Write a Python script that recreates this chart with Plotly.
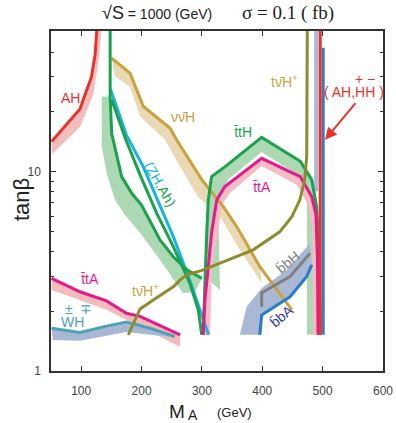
import numpy as np
import plotly.graph_objects as go

# ---- data (M_A in GeV, tan beta) ----
# AH (red) and its band
ah_m = [51, 98, 117, 123, 126]
ah_tb = [14.2, 20.7, 30, 38.7, 52]
ah_band_m = [52, 98, 120, 129, 134]
ah_band_tb = [12.3, 16.8, 24.4, 36.5, 52]

# green curve from the top, with green band
zha_m = [148, 148, 150.5, 167, 183.7, 200, 230.6, 252.6, 275, 300]
zha_tb = [52, 23.9, 15.6, 9.47, 7.81, 6.82, 4.55, 3.75, 3.22, 2.92]
zhb_m = [134, 134, 143, 156, 172.6, 197.5, 230.6, 269, 288.6]
zhb_tb = [23.9, 13.4, 9.66, 7.23, 6.08, 4.94, 3.61, 2.46, 2.5]

# Ah (green) and ZH (cyan)
ah2_m = [150.5, 174, 197.5, 225, 252.6, 280, 294, 299.7]
ah2_tb = [23, 14.5, 9.66, 6.2, 4.21, 2.76, 2.03, 1.52]
zh_m = [148.5, 175, 203, 252.6, 280, 302, 311]
zh_tb = [26, 15.3, 10.6, 4.73, 2.85, 1.8, 1.52]

# ttH (green) and inner band
tth_m = [302, 305, 308, 310.6, 316, 338, 399, 463, 482, 490, 494, 496]
tth_tb = [1.52, 2.97, 4.94, 7.23, 9.47, 10.6, 14.9, 11.3, 9.12, 6.69, 4.05, 1.52]
tthb_m = [330, 326.7, 343, 399, 459, 474, 474]
tthb_tb = [2.55, 7.23, 9.12, 12.6, 9.66, 7.66, 1.52]

# ttA (pink) and inner band
tta_m = [302, 305, 310.6, 316, 324.5, 338, 399, 463, 482, 489, 491.5, 492.4]
tta_tb = [1.52, 2.27, 3.34, 4.94, 7.23, 8.44, 11.7, 9.47, 7.5, 6.08, 3.61, 1.52]
ttab_m = [313.4, 316.7, 326.7, 333, 346, 399, 457.5, 476, 483, 484]
ttab_tb = [1.52, 3.34, 4.94, 6.82, 7.8, 10.7, 8.6, 6.82, 5.11, 1.52]

# ttA at low tan beta (pink) and band
tta2_m = [51, 98, 142, 175, 197.5, 264]
tta2_tb = [2.92, 2.5, 2.25, 1.95, 1.88, 1.52]
tta2b_m = [51, 142, 175, 264]
tta2b_tb = [2.55, 2.03, 1.80, 1.32]

# W H (teal) and band
wh_m = [51, 98, 142, 175, 214, 255]
wh_tb = [1.64, 1.56, 1.68, 1.76, 1.64, 1.49]
whb_m = [53, 98, 175, 247]
whb_tb = [1.43, 1.42, 1.57, 1.48]

# t nu H+ (olive)
tvh_m = [178, 197.5, 225, 252.6, 264, 275, 300, 330, 385, 429, 449, 462, 470, 473.6, 474.6, 474.6]
tvh_tb = [1.52, 2.05, 2.33, 2.65, 2.87, 3.04, 3.2, 3.48, 4.06, 5.0, 5.96, 7.2, 9.0, 11.9, 35, 52]

# nu nu H (tan) and band
vvh_m = [150.5, 181, 203, 247, 258, 300, 335.5, 357.6, 396, 432, 449]
vvh_tb = [37.3, 31.3, 21.3, 16.6, 14.5, 9.12, 6.69, 5.31, 3.34, 2.36, 2.03]
vvhb_m = [150.5, 156, 181, 197.5, 239, 260, 293.5, 330, 363, 399]
vvhb_tb = [37.3, 30.1, 26.8, 19.0, 14.5, 11.1, 7.5, 5.96, 4.06, 2.76]

# bbH (gray), bbA (blue) and band
bbh_m = [399, 399, 446, 479]
bbh_tb = [2.1, 2.47, 2.98, 3.9]
bba_m = [396, 399, 446, 473.6, 482]
bba_tb = [1.52, 1.91, 2.36, 2.98, 3.41]
bbb_m = [363, 374, 399, 440.5, 479]
bbb_tb = [1.52, 2.10, 2.60, 3.22, 4.38]

# (AH, H+H-) near kinematic limit
red_m = [496, 496]
red_tb = [1.52, 52]
blue_m = [501, 501]
blue_tb = [1.52, 42]
hh_band_m = [486, 493]
hh_band_tb = [8, 52]

fig = go.Figure()


def band(m1, t1, m2, t2, color):
    fig.add_trace(go.Scatter(x=list(m1) + list(m2)[::-1], y=list(t1) + list(t2)[::-1],
                             mode='lines', fill='toself', fillcolor=color,
                             line=dict(width=0), hoverinfo='skip'))


def line(m, t, color, w=3):
    fig.add_trace(go.Scatter(x=m, y=t, mode='lines', line=dict(color=color, width=w),
                             hoverinfo='skip'))


# bands
band(ah_m, ah_tb, ah_band_m, ah_band_tb, '#f4bdbd')
band(vvh_m[:9], vvh_tb[:9], vvhb_m, vvhb_tb, '#e9dab5')
band(zha_m[1:], zha_tb[1:], zhb_m, zhb_tb, '#acd9b3')
band(tth_m[1:], tth_tb[1:], tthb_m, tthb_tb, '#acd9b3')
band(tta_m, tta_tb, ttab_m, ttab_tb, '#f4bcc3')
band(tta2_m, tta2_tb, tta2b_m, tta2b_tb, '#f2bcbc')
band(wh_m, wh_tb, whb_m, whb_tb, '#a9b7d6')
band(bbb_m, bbb_tb, bba_m, bba_tb, '#a9b8d5')
band([hh_band_m[0]] * 2, hh_band_tb, [hh_band_m[1]] * 2, hh_band_tb, '#a9b8d5')

# lines
line(vvh_m, vvh_tb, '#c9a23e')
line(ah_m, ah_tb, '#e8322c')
line(zh_m, zh_tb, '#19b2e6')
line(ah2_m, ah2_tb, '#1aa34c')
line(zha_m, zha_tb, '#1aa34c')
line(tth_m, tth_tb, '#1aa34c')
line(tta_m, tta_tb, '#e6198c')
line(tta2_m, tta2_tb, '#e6198c')
line(wh_m, wh_tb, '#4ea2b2')
line(bbh_m, bbh_tb, '#808080')
line(bba_m, bba_tb, '#2a7cc8')
line(tvh_m, tvh_tb, '#8d8c2e')
line(blue_m, blue_tb, '#3a7ac2')
line(red_m, red_tb, '#e8322c')

labels = [
    ('AH', 81.5, 1.372, '#e8322c', 0),
    ('νν\u0304H', 268, 1.274, '#c9a23e', 0),
    ('t\u0304tH', 368.6, 1.198, '#1aa34c', 0),
    ('t\u0304tA', 400, 0.926, '#e6198c', 0),
    ('tν\u0304H<sup>+</sup>', 436, 1.455, '#c9a23e', 0),
    ('<span style="color:#19b2e6">(ZH,</span><span style="color:#1aa34c">Ah)</span>', 230.6, 0.940, '#19b2e6', 60),
    ('t\u0304tA', 115.4, 0.462, '#e6198c', 0),
    ('WH', 86.4, 0.246, '#4ea2b2', 0),
    ('±  ∓', 95.6, 0.312, '#4ea2b2', 0),
    ('tν\u0304H<sup>+</sup>', 206, 0.405, '#c9a23e', 0),
    ('b\u0304bH', 442.6, 0.548, '#808080', -40),
    ('b\u0304bA', 432, 0.276, '#3a3aa8', -40),
    ('( AH,HH )', 552, 1.399, '#e8322c', 0),
    ('+ −', 570, 1.465, '#e8322c', 0),
]
for txt, x, y, c, ang in labels:
    fig.add_annotation(text=txt, x=x, y=y, xref='x', yref='y', showarrow=False,
                       xanchor='center', yanchor='middle', textangle=ang,
                       font=dict(family='Liberation Sans', size=14, color=c))

# arrow to the (AH, H+H-) curve
fig.add_annotation(x=504, y=1.161, ax=556.5, ay=1.353, xref='x', yref='y', axref='x', ayref='y',
                   text='', showarrow=True, arrowhead=2, arrowsize=1.2, arrowwidth=2,
                   arrowcolor='#e8322c')

# title and axis titles
txt = [
    ('<span style="font-size:18px">√S</span> = 1000 (GeV)', 0.319, 1.0515, 'Liberation Sans', 14, 0),
    ('σ = 0.1 ( fb)', 0.714, 1.0515, 'Liberation Serif', 19, 0),
    ('tanβ', -0.087, 0.503, 'Liberation Sans', 22, -90),
    ('M', 0.381, -0.119, 'Liberation Sans', 19, 0),
    ('A', 0.429, -0.129, 'Liberation Sans', 14, 0),
    ('(GeV)', 0.554, -0.121, 'Liberation Sans', 13, 0),
]
for t, x, y, fam, sz, ang in txt:
    fig.add_annotation(text=t, x=x, y=y, xref='paper', yref='paper', showarrow=False,
                       xanchor='center', yanchor='middle', textangle=ang,
                       font=dict(family=fam, size=sz, color='#222'))

fig.update_layout(width=396, height=423, margin=dict(l=51, r=13, t=31, b=52),
                  plot_bgcolor='white', paper_bgcolor='white', showlegend=False)
fig.update_xaxes(range=[50, 600], tickvals=[100, 200, 300, 400, 500, 600], automargin=False,
                 ticks='inside', ticklen=5, tickcolor='#333', showline=True, linecolor='#333',
                 linewidth=1.5, mirror='ticks', showgrid=False, zeroline=False,
                 ticklabelstandoff=8,
                 tickfont=dict(family='Liberation Sans', size=12, color='#444'))
fig.update_yaxes(type='log', range=[0, np.log10(51)], tickvals=[1, 10], ticktext=['1', '10'],
                 automargin=False,
                 ticks='inside', ticklen=5, tickcolor='#333', showline=True, linecolor='#333',
                 linewidth=1.5, mirror='ticks', showgrid=False, zeroline=False,
                 ticklabelstandoff=6,
                 minor=dict(tickvals=[2, 3, 4, 5, 6, 7, 8, 9, 20, 30, 40], ticks='inside',
                            ticklen=3, tickcolor='#333', showgrid=False),
                 tickfont=dict(family='Liberation Sans', size=12, color='#444'))

# drop the page's default body margin so the figure fills the window
fig.write_html("out.html", config={'displayModeBar': False},
               post_script="document.body.style.margin='0';")
